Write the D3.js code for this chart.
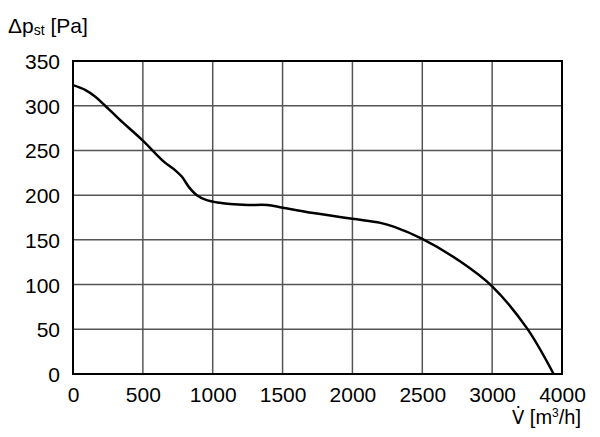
<!DOCTYPE html>
<html>
<head>
<meta charset="utf-8">
<script src="https://cdn.jsdelivr.net/npm/d3@7"></script>
<style>
  body { margin: 0; background: #fff; }
  text { font-family: "Liberation Sans", Arial, sans-serif; fill: #000; }
</style>
</head>
<body>
<script>
"use strict";
// flow (m3/h, on the drawn axis) and static pressure (Pa)
const flow = [0, 90, 160, 230, 330, 500, 650, 730, 780, 830, 886, 957, 1050, 1125, 1250, 1390, 1500, 1720, 2000, 2200, 2300, 2500, 2770, 3000, 3250, 3440];
const pressure = [323, 317.5, 310, 300, 285, 261, 237.5, 228, 220.5, 209, 200, 194.5, 191.5, 190, 189, 189, 186, 180, 173.5, 169, 164.5, 151, 126, 98, 51, 0];
const xTicks = [0, 500, 1000, 1500, 2000, 2500, 3000, 3500];
const xTickLabels = ["0", "500", "1000", "1500", "2000", "2500", "3000", "4000"];
const yTicks = [0, 50, 100, 150, 200, 250, 300, 350];

const w = 600, h = 437;
const pL = 73, pR = 562, pT = 61, pB = 374;

const x = d3.scaleLinear().domain([0, 3500]).range([pL, pR]);
const y = d3.scaleLinear().domain([0, 350]).range([pB, pT]);

const svg = d3.select("body").append("svg").attr("width", w).attr("height", h);

// grid
svg.append("g").selectAll("line").data(xTicks.slice(1, -1)).enter().append("line")
  .attr("x1", d => x(d)).attr("x2", d => x(d)).attr("y1", pT).attr("y2", pB)
  .attr("stroke", "#555").attr("stroke-width", 1.5);
svg.append("g").selectAll("line").data(yTicks.slice(1, -1)).enter().append("line")
  .attr("x1", pL).attr("x2", pR).attr("y1", d => y(d)).attr("y2", d => y(d))
  .attr("stroke", "#555").attr("stroke-width", 1.5);

// frame
svg.append("rect").attr("x", pL).attr("y", pT).attr("width", pR - pL).attr("height", pB - pT)
  .attr("fill", "none").attr("stroke", "#000").attr("stroke-width", 2);

// axes (labels only)
const xAxis = d3.axisBottom(x).tickValues(xTicks).tickSize(0).tickPadding(13)
  .tickFormat((d, i) => xTickLabels[i]);
const yAxis = d3.axisLeft(y).tickValues(yTicks).tickSize(0).tickPadding(13);
const gx = svg.append("g").attr("transform", "translate(0," + pB + ")").call(xAxis);
const gy = svg.append("g").attr("transform", "translate(" + pL + ",0)").call(yAxis);
[gx, gy].forEach(g => {
  g.select(".domain").remove();
  g.selectAll("text").attr("font-size", 21).attr("font-family", "Liberation Sans, Arial, sans-serif").attr("fill", "#000");
});
gy.selectAll("text").attr("dy", "0.36em");

// curve
const line = d3.line().x(d => x(d[0])).y(d => y(d[1])).curve(d3.curveCatmullRom.alpha(0.5));
svg.append("path").datum(flow.map((f, i) => [f, pressure[i]]))
  .attr("d", line).attr("fill", "none").attr("stroke", "#000").attr("stroke-width", 2.5);

// titles
const yt = svg.append("text").attr("x", 8).attr("y", 33).attr("font-size", 21);
yt.append("tspan").text("Δp");
yt.append("tspan").attr("font-size", 14).attr("dy", 2).text("st");
yt.append("tspan").attr("dy", -2).text(" [Pa]");

const xt = svg.append("text").attr("x", 512).attr("y", 424).attr("font-size", 20);
xt.append("tspan").attr("font-family", "DejaVu Sans Condensed, DejaVu Sans").text("V\u0307");
xt.append("tspan").text(" [m");
xt.append("tspan").attr("font-size", 12).attr("dy", -7).text("3");
xt.append("tspan").attr("dy", 7).text("/h]");
</script>
</body>
</html>
